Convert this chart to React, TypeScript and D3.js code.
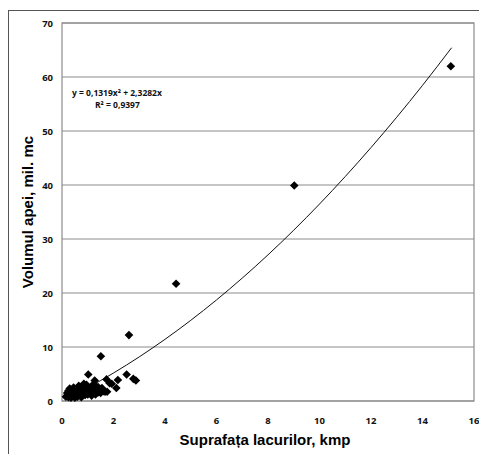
import React from "react";
import * as d3 from "d3";

const W = 479;
const H = 454;

const xTicks = [0, 2, 4, 6, 8, 10, 12, 14, 16];
const yTicks = [0, 10, 20, 30, 40, 50, 60, 70];

const lakeArea = [
  15.1, 9.02, 4.43, 2.6, 1.51, 1.02, 1.27, 1.73, 1.85, 1.93, 2.17, 2.11, 2.51, 2.77, 2.87,
  0.15, 0.2, 0.25, 0.3, 0.3, 0.35, 0.4, 0.4, 0.45, 0.5, 0.5, 0.55, 0.6, 0.6, 0.65, 0.7, 0.7,
  0.75, 0.8, 0.8, 0.85, 0.9, 0.9, 0.95, 1.0, 1.0, 1.05, 1.1, 1.1, 1.15, 1.2, 1.25, 1.3, 1.3,
  1.35, 1.4, 1.45, 1.5, 1.55, 1.6, 1.67, 1.75, 0.2, 0.35, 0.55, 0.45, 0.65, 0.85, 0.95, 1.2,
  0.25, 0.75, 1.4, 0.5,
];
const waterVolume = [
  62, 39.9, 21.7, 12.2, 8.3, 4.9, 3.8, 4.0, 3.3, 3.2, 3.9, 2.4, 4.9, 4.1, 3.8,
  0.8, 1.0, 0.7, 1.2, 2.3, 1.5, 0.9, 1.8, 2.5, 1.1, 2.0, 1.4, 0.8, 2.2, 1.7, 1.2, 2.5,
  1.9, 1.0, 2.8, 1.5, 2.2, 1.1, 2.6, 1.8, 1.2, 2.4, 1.5, 2.0, 1.0, 2.3, 1.6, 1.2, 2.8,
  2.0, 1.6, 2.2, 1.5, 2.4, 1.8, 1.7, 1.7, 1.5, 0.6, 0.9, 1.3, 2.8, 3.2, 3.0, 3.0,
  1.9, 0.7, 2.6, 0.6,
];

const trendA = 0.1319;
const trendB = 2.3282;
const trendX = [0.15, 1, 2, 3, 4, 5, 6, 7, 8, 9, 10, 11, 12, 13, 14, 15.13];

export default function App() {
  const left = 62;
  const right = 474;
  const top = 23;
  const bottom = 401;
  const x = d3.scaleLinear().domain([0, 16]).range([left, right]);
  const y = d3.scaleLinear().domain([0, 70]).range([bottom, top]);

  const line = d3
    .line<number>()
    .x((d) => x(d))
    .y((d) => y(trendA * d * d + trendB * d))
    .curve(d3.curveMonotoneX);

  const diamond = (cx: number, cy: number, r: number) =>
    `M${cx},${cy - r}L${cx + r},${cy}L${cx},${cy + r}L${cx - r},${cy}Z`;

  const tickFont = "'Open Sans', 'Liberation Sans', sans-serif";
  const titleFont = "'Liberation Sans', Arial, sans-serif";

  return (
    <svg
      width={W}
      height={H}
      style={{ position: "absolute", left: 0, top: 0, background: "#fff" }}
    >
      <rect x={0} y={0} width={W} height={H} fill="#fff" />
      {/* outer frame */}
      <line x1={8} y1={10.5} x2={W} y2={10.5} stroke="#555" strokeWidth={1} />
      <line x1={8.5} y1={10} x2={8.5} y2={H} stroke="#555" strokeWidth={1} />

      {/* grid */}
      {yTicks.map((t) => (
        <line
          key={"g" + t}
          x1={left}
          x2={right}
          y1={y(t)}
          y2={y(t)}
          stroke="#8c8c8c"
          strokeWidth={1.2}
        />
      ))}
      <rect
        x={left}
        y={top}
        width={right - left}
        height={bottom - top}
        fill="none"
        stroke="#8c8c8c"
        strokeWidth={1.2}
      />

      {/* y tick labels */}
      {yTicks.map((t) => (
        <text
          key={"yl" + t}
          x={53}
          y={y(t) + 3.5}
          textAnchor="end"
          fontFamily={tickFont}
          fontWeight="bold"
          fontSize={9.5}
          fill="#111"
        >
          {t}
        </text>
      ))}
      {/* x tick labels */}
      {xTicks.map((t) => (
        <text
          key={"xl" + t}
          x={x(t)}
          y={424}
          textAnchor="middle"
          fontFamily={tickFont}
          fontWeight="bold"
          fontSize={9.5}
          fill="#111"
        >
          {t}
        </text>
      ))}

      {/* trend line */}
      <path d={line(trendX) || ""} fill="none" stroke="#111" strokeWidth={1} />

      {/* points */}
      {lakeArea.map((v, i) => (
        <path key={"p" + i} d={diamond(x(v), y(waterVolume[i]), 4.3)} fill="#000" />
      ))}

      {/* equation */}
      <text x={72} y={96} fontFamily={tickFont} fontSize={8.5} fontWeight="bold" fill="#111">
        y = 0,1319x² + 2,3282x
      </text>
      <text x={95} y={108} fontFamily={tickFont} fontSize={8.5} fontWeight="bold" fill="#111">
        R² = 0,9397
      </text>

      {/* axis titles */}
      <text
        x={265}
        y={445}
        textAnchor="middle"
        fontFamily={titleFont}
        fontWeight="bold"
        fontSize={15}
        fill="#000"
      >
        Suprafața lacurilor, kmp
      </text>
      <text
        transform={`translate(33,${(top + bottom) / 2}) rotate(-90)`}
        textAnchor="middle"
        fontFamily={titleFont}
        fontWeight="bold"
        fontSize={15}
        fill="#000"
      >
        Volumul apei, mil. mc
      </text>
    </svg>
  );
}
